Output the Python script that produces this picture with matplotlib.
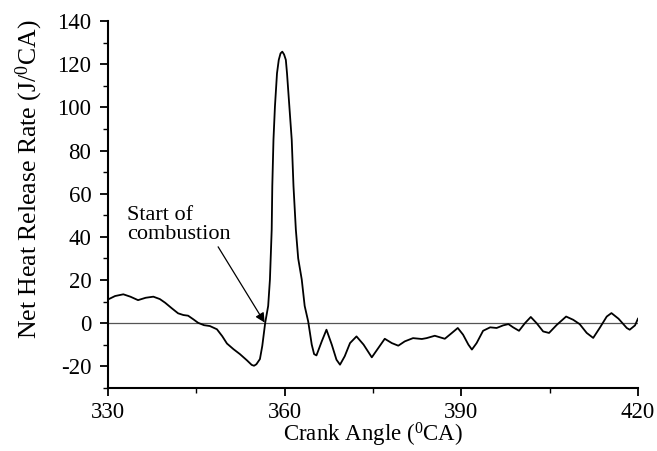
import matplotlib
matplotlib.use("Agg")
import matplotlib.pyplot as plt
from matplotlib.ticker import MultipleLocator

# Net heat release rate
crank_angle = [
    330.0, 331.2, 332.6, 333.8, 335.1, 336.4, 337.7, 338.8, 339.7, 340.8,
    341.9, 342.8, 343.6, 344.5, 345.3, 346.3, 347.3, 348.5, 349.4, 350.2,
    351.3, 352.4, 353.6, 354.4, 354.8, 355.2, 355.8, 356.2, 356.7, 357.2,
    357.5, 357.8, 357.9, 358.1, 358.35, 358.7, 359.0, 359.3, 359.6, 359.9,
    360.2, 360.4, 360.8, 361.2, 361.5, 361.9, 362.3, 362.9, 363.4, 364.0,
    364.6, 365.0, 365.4, 366.3, 367.1, 368.0, 368.8, 369.4, 370.2, 371.1,
    372.2, 373.4, 374.8, 375.9, 377.0, 378.2, 379.3, 380.4, 381.8, 383.3,
    384.1, 385.5, 387.2, 388.4, 389.4, 390.3, 391.2, 391.8, 392.6, 393.7,
    394.9, 396.0, 397.1, 398.0, 398.8, 399.8, 400.8, 401.8, 402.8, 403.9,
    404.9, 406.2, 407.8, 409.0, 410.1, 411.3, 412.4, 413.5, 414.7, 415.5,
    416.7, 418.1, 418.6, 419.5, 420.0,
]
heat_release = [
    11.0, 12.6, 13.4, 12.3, 10.7, 11.8, 12.3, 11.2, 9.5, 7.0,
    4.6, 3.8, 3.5, 1.8, 0.2, -0.9, -1.3, -2.8, -6.0, -9.4,
    -12.0, -14.3, -17.2, -19.3, -19.7, -19.0, -16.6, -10.5, 0.3, 8.0,
    20.3, 43.4, 63.5, 85.0, 100.4, 115.8, 122.0, 125.0, 125.8, 124.5,
    122.0, 115.8, 100.4, 85.0, 63.5, 43.4, 30.0, 20.3, 8.0, 0.8,
    -9.9, -14.3, -14.9, -8.4, -3.0, -9.9, -16.9, -19.2, -15.3, -9.2,
    -6.1, -9.9, -15.8, -11.5, -7.2, -9.2, -10.4, -8.4, -6.9, -7.3,
    -6.9, -5.8, -7.2, -4.5, -2.2, -5.3, -9.9, -12.2, -9.2, -3.5,
    -1.9, -2.2, -1.0, -0.4, -1.9, -3.5, 0.0, 2.9, 0.0, -3.8,
    -4.5, -0.8, 3.1, 1.6, -0.4, -4.5, -6.8, -2.2, 3.1, 4.7,
    2.1, -2.2, -3.0, -1.0, 2.1,
]

soc_point = (356.6, 0.3)
soc_tail = (348.7, 35.4)
soc_label = "Start of\ncombustion"

plt.rcParams["font.family"] = ["Liberation Serif", "DejaVu Serif"]
plt.rcParams["mathtext.fontset"] = "custom"
plt.rcParams["mathtext.rm"] = "Liberation Serif"
plt.rcParams["axes.unicode_minus"] = False

fig = plt.figure(figsize=(6.57, 4.51), dpi=100)
ax = fig.add_axes([0.1644, 0.1397, 0.8066, 0.8137])

ax.axhline(0, color="#555555", linewidth=0.9, zorder=1)
ax.plot(crank_angle, heat_release, color="black", linewidth=1.3, zorder=2)

ax.set_xlim(330, 420)
ax.set_ylim(-30, 140)
ax.xaxis.set_major_locator(MultipleLocator(30))
ax.xaxis.set_minor_locator(MultipleLocator(15))
ax.yaxis.set_major_locator(MultipleLocator(20))
ax.yaxis.set_minor_locator(MultipleLocator(10))

for side in ("top", "right"):
    ax.spines[side].set_visible(False)
for side in ("left", "bottom"):
    ax.spines[side].set_linewidth(1.5)

ax.tick_params(which="major", length=6, width=1.3, labelsize=16.5, pad=6)
ax.tick_params(axis="x", which="major", pad=4)
ax.tick_params(which="minor", length=3.5, width=1.0)

ax.set_xlabel("Crank Angle ($\\mathregular{^0}$CA)", fontsize=16.5)
ax.xaxis.set_label_coords(0.5, -0.09)
ax.set_ylabel("Net Heat Release Rate (J/$\\mathregular{^0}$CA)", fontsize=18.5)
ax.yaxis.set_label_coords(-0.119, 0.57)

ax.text(333.2, 45.5, soc_label, fontsize=16, ha="left", va="center", linespacing=1.0)
ax.annotate("", xy=soc_point, xytext=soc_tail,
            arrowprops=dict(arrowstyle="-|>", color="black", lw=0.9,
                            mutation_scale=14, shrinkA=0, shrinkB=0))

fig.savefig("out.png", dpi=100)
